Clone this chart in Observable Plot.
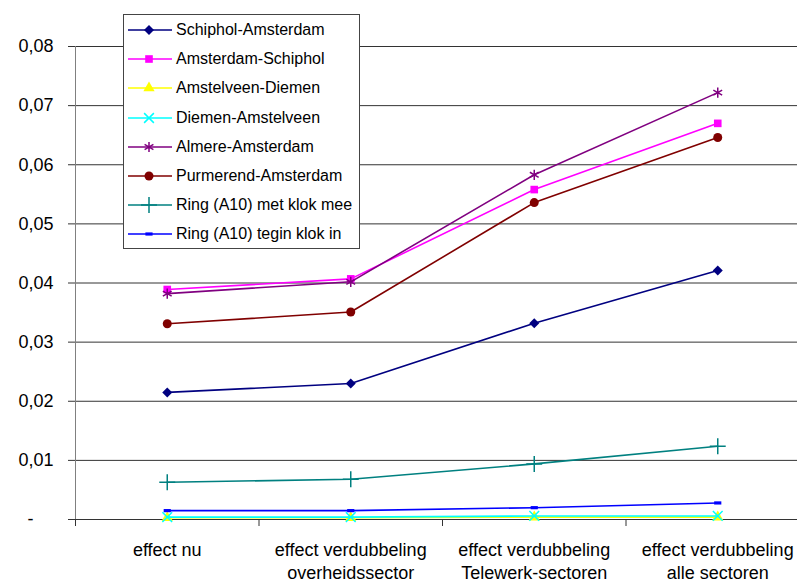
<!DOCTYPE html>
<html><head><meta charset="utf-8">
<script src="https://cdn.jsdelivr.net/npm/d3@7"></script>
<script src="https://cdn.jsdelivr.net/npm/@observablehq/plot@0.6"></script>
<style>
html,body{margin:0;padding:0;background:#fff;}
#wrap{position:relative;width:797px;height:583px;overflow:hidden;font-family:"Liberation Sans",Arial,sans-serif;}
#legend{position:absolute;left:123px;top:14px;width:237px;height:235px;border:1px solid #444;background:#fff;box-sizing:border-box;}
.row{position:absolute;left:0;height:29px;display:flex;align-items:center;font-size:16px;color:#000;white-space:nowrap;}
.row svg{margin-left:4px;margin-right:4px;}
</style></head><body><div id="wrap"></div>
<script>
const categories = ["effect nu", "effect verdubbeling\noverheidssector", "effect verdubbeling\nTelewerk-sectoren", "effect verdubbeling\nalle sectoren"];
const seriesNames = ["Schiphol-Amsterdam", "Amsterdam-Schiphol", "Amstelveen-Diemen", "Diemen-Amstelveen", "Almere-Amsterdam", "Purmerend-Amsterdam", "Ring (A10) met klok mee", "Ring (A10) tegin klok in"];
const schipholAmsterdam  = [0.0215, 0.0230, 0.0332, 0.0421];
const amsterdamSchiphol  = [0.0389, 0.0407, 0.0558, 0.0670];
const amstelveenDiemen   = [0.0003, 0.0003, 0.0004, 0.0004];
const diemenAmstelveen   = [0.0004, 0.0004, 0.0006, 0.0006];
const almereAmsterdam    = [0.0382, 0.0402, 0.0583, 0.0722];
const purmerendAmsterdam = [0.0331, 0.0351, 0.0536, 0.0646];
const ringMetKlokMee     = [0.0063, 0.0068, 0.0094, 0.0124];
const ringTeginKlokIn    = [0.0015, 0.0015, 0.0020, 0.0028];
const yTicks = [0, 0.01, 0.02, 0.03, 0.04, 0.05, 0.06, 0.07, 0.08];
const colors = ["#000080", "#FF00FF", "#FFFF00", "#00FFFF", "#800080", "#800000", "#008080", "#0000FF"];

const seriesValues = [schipholAmsterdam, amsterdamSchiphol, amstelveenDiemen, diemenAmstelveen, almereAmsterdam, purmerendAmsterdam, ringMetKlokMee, ringTeginKlokIn];

const dash = {draw(ctx, size) { const w = Math.sqrt(size) * 0.45; ctx.rect(-w, -1.6, 2 * w, 3.2); }};
const symbols = [
  {symbol: "diamond2", filled: true, r: 4.5},
  {symbol: "square", filled: true, r: 4.3},
  {symbol: "triangle", filled: true, r: 4.2},
  {symbol: "times", filled: false, r: 4.5},
  {symbol: "asterisk", filled: false, r: 4.8},
  {symbol: "circle", filled: true, r: 4.5},
  {symbol: "plus", filled: false, r: 5.2},
  {symbol: dash, filled: true, r: 4.5}
];
const d3Sym = [d3.symbolDiamond2, d3.symbolSquare, d3.symbolTriangle, d3.symbolTimes, d3.symbolAsterisk, null, d3.symbolPlus, dash];

const fmt = d => d === 0 ? "-\u00a0\u00a0\u00a0\u00a0" : d.toFixed(2).replace(".", ",");

const marks = [
  Plot.gridY(yTicks, {stroke: "#333", strokeOpacity: 1}),
  Plot.ruleX([-0.5], {stroke: "#808080"}),
  Plot.axisY(yTicks, {tickFormat: fmt, tickSize: 7, tickPadding: 15, fontSize: 18, stroke: "#333", label: null}),
  Plot.axisX([-0.5, 0.5, 1.5, 2.5, 3.5], {tickFormat: () => "", tickSize: 7, stroke: "#333", label: null}),
  Plot.axisX([0, 1, 2, 3], {tickFormat: i => categories[i], tickSize: 0, tickPadding: 20, fontSize: 18, lineHeight: 1.28, label: null})
];
seriesValues.forEach((vals, s) => {
  const rows = vals.map((v, i) => ({i, v}));
  marks.push(Plot.line(rows, {x: "i", y: "v", stroke: colors[s], strokeWidth: 1.6}));
  const sym = symbols[s];
  marks.push(Plot.dot(rows, {x: "i", y: "v", symbol: sym.symbol, r: sym.r,
    fill: sym.filled ? colors[s] : "none", stroke: sym.filled ? "none" : colors[s], strokeWidth: 1.5}));
});

const chart = Plot.plot({
  width: 797, height: 583,
  marginLeft: 75, marginRight: -12, marginTop: 46, marginBottom: 64,
  x: {domain: [-0.5, 3.5], axis: null, label: null},
  y: {domain: [0, 0.08], axis: null, label: null},
  style: {fontFamily: '"Liberation Sans", Arial, sans-serif', fontSize: "18px", color: "#000", background: "#fff"},
  marks
});
const wrap = document.getElementById("wrap");
wrap.appendChild(chart);

const legend = document.createElement("div");
legend.id = "legend";
seriesNames.forEach((name, s) => {
  const row = document.createElement("div");
  row.className = "row";
  row.style.top = (s * 29.2 + 0.5) + "px";
  const sym = symbols[s];
  let markerPath;
  if (s === 5) {
    markerPath = `<circle cx="0" cy="0" r="${sym.r}" fill="${colors[s]}"/>`;
  } else {
    const p = d3.symbol(d3Sym[s], Math.PI * sym.r * sym.r)();
    markerPath = sym.filled ? `<path d="${p}" fill="${colors[s]}"/>` : `<path d="${p}" fill="none" stroke="${colors[s]}" stroke-width="1.5"/>`;
  }
  row.innerHTML = `<svg width="44" height="20"><line x1="0" x2="44" y1="10" y2="10" stroke="${colors[s]}" stroke-width="1.6"/><g transform="translate(21,10)">${markerPath}</g></svg><span>${name}</span>`;
  legend.appendChild(row);
});
wrap.appendChild(legend);
</script>
</body></html>
